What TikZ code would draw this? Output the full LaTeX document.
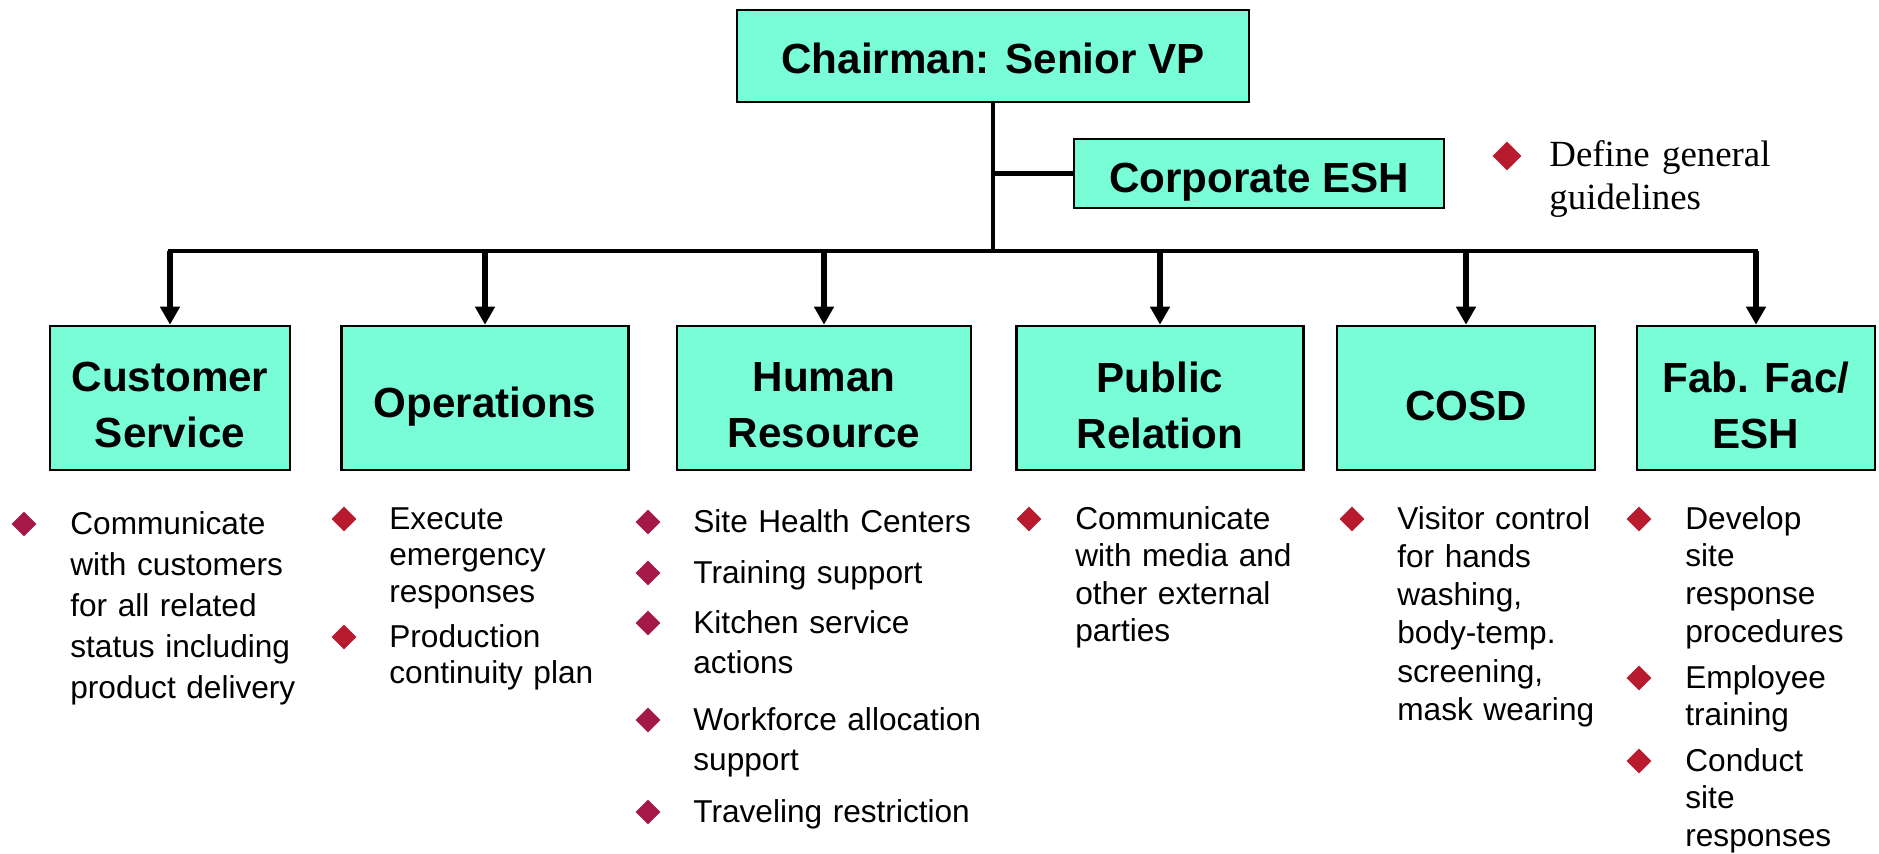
\documentclass[tikz,border=0pt]{standalone}
\usepackage{fontspec}
\setmainfont{Liberation Sans}
\newfontfamily\serifface{Liberation Serif}
\usetikzlibrary{arrows.meta,shapes.geometric}
\definecolor{unitfill}{RGB}{120,253,214}
\definecolor{gemred}{RGB}{183,27,45}
\definecolor{gemmag}{RGB}{165,25,72}
\begin{document}
\begin{tikzpicture}[x=0.02cm,y=-0.02cm,
	unit/.style={draw=black,line width=1.5pt,fill=unitfill,inner sep=0pt,minimum height=2.88cm},
	unitname/.style={align=center,inner sep=0pt,font=\bfseries\fontsize{24}{31.9}\selectfont},
	gem/.style={diamond,fill=gemred,inner sep=0pt,minimum size=0.5cm},
	bullettext/.style={anchor=base west,inner sep=0pt,text width=6cm,align=left,
		font=\fontsize{18}{#1}\selectfont},
	bullettext/.default=21pt,
	link/.style={line width=2.8pt},
	drop/.style={line width=3.2pt,-{Triangle[width=0.38cm,length=0.36cm]}}]
	\useasboundingbox (0,0) rectangle (1879,853);
	% boxes
	\node[unit,minimum width=10.24cm,minimum height=1.84cm] (chair) at (993,56) {};
	\node[unitname] (chair-t) at ([yshift=-0.04cm]chair) {Chairman: Senior VP};
	\node[unit,minimum width=7.4cm,minimum height=1.38cm] (corp) at (1259,173.5) {};
	\node[unitname] (corp-t) at ([yshift=-0.18cm]corp) {Corporate ESH};
	\node[unit,minimum width=4.8cm] (cs) at (170,398) {};
	\node[unitname] (cs-t) at ([yshift=-0.14cm]cs) {Customer\\Service};
	\node[unit,minimum width=5.74cm] (ops) at (485,398) {};
	\node[unitname] (ops-t) at ([yshift=-0.17cm]ops) {Operations};
	\node[unit,minimum width=5.88cm] (hr) at (824,398) {};
	\node[unitname] (hr-t) at ([yshift=-0.14cm]hr) {Human\\Resource};
	\node[unit,minimum width=5.74cm] (pr) at (1160,398) {};
	\node[unitname] (pr-t) at ([yshift=-0.14cm]pr) {Public\\Relation};
	\node[unit,minimum width=5.16cm] (cosd) at (1466,398) {};
	\node[unitname] (cosd-t) at ([yshift=-0.16cm]cosd) {COSD};
	\node[unit,minimum width=4.76cm] (fab) at (1756,398) {};
	\node[unitname] (fab-t) at ([yshift=-0.14cm]fab) {Fab. Fac/\\ESH};
	% lines
	\coordinate (bar) at (993,251);
	\draw[link] (chair.south) -- (chair.south |- bar);
	\draw[link] (chair.south |- corp.west) -- (corp.west);
	\draw[link,line cap=rect] (cs.north |- bar) -- (fab.north |- bar);
	\foreach \n in {cs,ops,hr,pr,cosd,fab}
	{
		\draw[drop] (\n.north |- bar) -- (\n.north);
	}
	% guidelines
	\node[gem,minimum size=0.58cm] (defg) at (1507,156) {};
	\node[bullettext=25pt,font=\serifface\fontsize{21}{25}\selectfont] (def) at (1549,166) {Define general\\guidelines};
	% customer service
	\node[gem,fill=gemmag] (cs1g) at (24,524) {};
	\node[bullettext=23.4pt] (cs1) at (70,534) {Communicate\\with customers\\for all related\\status including\\product delivery};
	% operations
	\node[gem] (ops1g) at (344,519) {};
	\node[bullettext] (ops1) at (389,529) {Execute\\emergency\\responses};
	\node[gem] (ops2g) at (344,637) {};
	\node[bullettext] (ops2) at (389,647) {Production\\continuity plan};
	% human resource
	\node[gem,fill=gemmag] (hr1g) at (648,522) {};
	\node[bullettext=23.2pt] (hr1) at (693,532) {Site Health Centers};
	\node[gem,fill=gemmag] (hr2g) at (648,573) {};
	\node[bullettext=23.2pt] (hr2) at (693,583) {Training support};
	\node[gem,fill=gemmag] (hr3g) at (648,623) {};
	\node[bullettext=23.2pt] (hr3) at (693,633) {Kitchen service\\actions};
	\node[gem,fill=gemmag] (hr4g) at (648,720) {};
	\node[bullettext=23.2pt] (hr4) at (693,730) {Workforce allocation\\support};
	\node[gem,fill=gemmag] (hr5g) at (648,812) {};
	\node[bullettext=23.2pt] (hr5) at (693,822) {Traveling restriction};
	% public relation
	\node[gem] (pr1g) at (1029,519) {};
	\node[bullettext=21.4pt] (pr1) at (1075,529) {Communicate\\with media and\\other external\\parties};
	% cosd
	\node[gem] (cosd1g) at (1352,519) {};
	\node[bullettext=21.8pt] (cosd1) at (1397,529) {Visitor control\\for hands\\washing,\\body-temp.\\screening,\\mask wearing};
	% fab. fac / esh
	\node[gem] (fab1g) at (1639,519) {};
	\node[bullettext=21.5pt] (fab1) at (1685,529) {Develop\\site\\response\\procedures};
	\node[gem] (fab2g) at (1639,678) {};
	\node[bullettext=21.5pt] (fab2) at (1685,688) {Employee\\training};
	\node[gem] (fab3g) at (1639,761) {};
	\node[bullettext=21.5pt] (fab3) at (1685,771) {Conduct\\site\\responses};
\end{tikzpicture}
\end{document}
